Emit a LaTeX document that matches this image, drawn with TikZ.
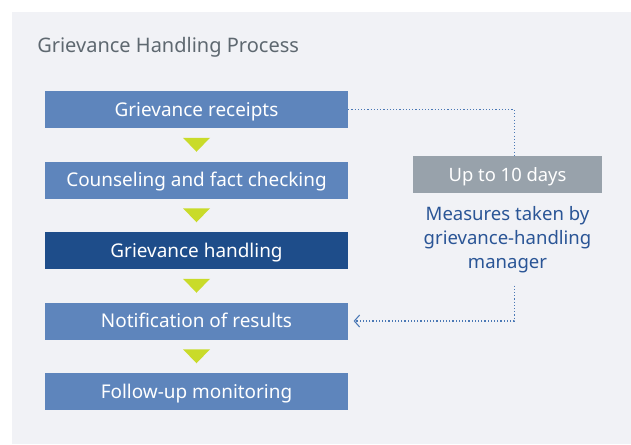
\documentclass[tikz,border=0pt]{standalone}
\usepackage{fontspec}
\setmainfont{Noto Sans}
\usetikzlibrary{arrows.meta,positioning,calc}
\definecolor{fondo}{RGB}{241,242,246}
\definecolor{azulclaro}{RGB}{94,133,188}
\definecolor{azuloscuro}{RGB}{30,77,138}
\definecolor{gris}{RGB}{152,162,171}
\definecolor{grisoscuro}{RGB}{94,104,112}
\definecolor{lima}{RGB}{201,219,42}
\definecolor{azultexto}{RGB}{42,85,150}
\definecolor{punteado}{RGB}{74,120,181}

\begin{document}
\begin{tikzpicture}[x=0.75pt,y=-0.75pt,
paso/.style={fill=azulclaro,text=white,minimum width=227.25pt,minimum height=27.75pt,inner sep=0pt,text height=12pt,text depth=2pt,font=\fontsize{14.2}{16}\selectfont},
pasoclave/.style={paso,fill=azuloscuro},
plazo/.style={fill=gris,text=white,minimum width=141.75pt,minimum height=27.75pt,inner sep=0pt,text height=12pt,text depth=2pt,font=\fontsize{13.8}{16}\selectfont},
nota/.style={text=azultexto,align=center,font=\fontsize{13.9}{18}\selectfont,inner sep=0pt},
flecha/.style={fill=lima},
enlace/.style={draw=punteado,line width=0.8pt,dash pattern=on 0.8pt off 1.6pt}
]
\useasboundingbox (0,0) rectangle (631,444);
\fill[fondo] (12,12) rectangle (631,444);

\node[anchor=west,text=grisoscuro,font=\fontsize{15}{18}\selectfont,inner sep=0pt] (titulo) at (37,47) {Grievance Handling Process};

\node[paso] (recepcion) at (196.5,109.5) {Grievance receipts};
\node[paso] (consejo) at (196.5,180) {Counseling and fact checking};
\node[pasoclave] (tramite) at (196.5,250.5) {Grievance handling};
\node[paso] (aviso) at (196.5,321) {Notification of results};
\node[paso] (seguimiento) at (196.5,391.5) {Follow-up monitoring};

\foreach \a/\b in {recepcion/consejo,consejo/tramite,tramite/aviso,aviso/seguimiento}
  \fill[flecha] ($(\a.south)!0.5!(\b.north)$) +(-13.5,-7) -- +(13.5,-7) -- +(0,7) -- cycle;

\node[plazo] (dias) at (507.5,174.5) {Up to 10 days};
\node[nota,below=10pt of dias] (gestor) {Measures taken by\\grievance-handling\\manager};

\draw[enlace] (recepcion.east) -| ([xshift=5pt]dias.north);
\draw[enlace,-{Straight Barb[length=4pt,width=9pt,line width=0.8pt]}]
  ([xshift=5pt,yshift=-9pt]gestor.south) |- ([xshift=4pt]aviso.east);
\end{tikzpicture}
\end{document}
